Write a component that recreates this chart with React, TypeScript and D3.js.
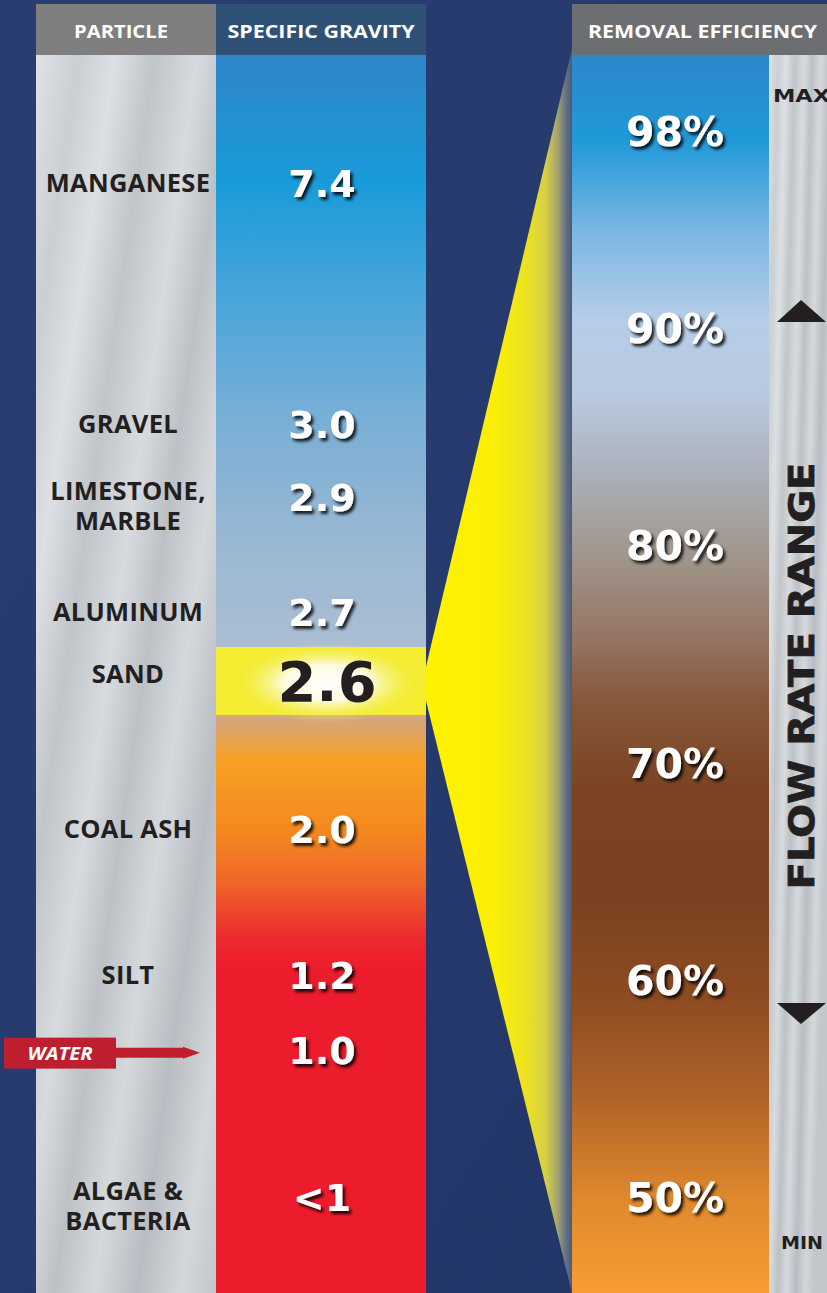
import React from "react";
import * as d3 from "d3";

// ---- data ----
const particleNames = ["MANGANESE", "GRAVEL", "LIMESTONE,|MARBLE", "ALUMINUM", "SAND", "COAL ASH", "SILT", "", "ALGAE &|BACTERIA"];
const gravityLabels = ["7.4", "3.0", "2.9", "2.7", "2.6", "2.0", "1.2", "1.0", "<1"];
const rowSlots = [0, 3.3, 4.3, 5.88, 6.85, 8.85, 10.86, 11.88, 13.9];
const highlightIndex = 4; // SAND
const waterIndex = 7;
const efficiencyValues = [98, 90, 80, 70, 60, 50];
const headers = ["PARTICLE", "SPECIFIC GRAVITY", "REMOVAL EFFICIENCY"];
const flowLabels = ["MAX", "MIN"];
const flowTitle = "FLOW RATE RANGE";

const W = 827;
const H = 1293;

export default function App() {
  const top = 55;
  const pcol = [36, 216];
  const gcol = [216, 426];
  const ecol = [572, 769];
  const fcol = [769, 827];

  const yRow = d3.scaleLinear().domain([0, 13.9]).range([183, 1197]);
  const yEff = d3.scaleLinear().domain([50, 90, 98]).range([1197, 328, 131]);

  const sandY = yRow(rowSlots[highlightIndex]);
  const bandTop = 647, bandBot = 715;

  const wedge = d3.line()([
    [ecol[0], top - 6],
    [gcol[1], sandY - 16],
    [gcol[1], sandY + 18],
    [ecol[0], H],
  ]) + "Z";

  const gStops: [number, string][] = [
    [55, "#2f86c8"], [180, "#199bd9"], [300, "#4aa5da"], [420, "#79afd6"],
    [550, "#9bb8d2"], [646, "#aabed2"], [716, "#d2a685"], [760, "#f7a024"],
    [830, "#f4891f"], [885, "#f0642a"], [935, "#ec2c2e"], [970, "#ec1c2c"], [1293, "#ec1c2c"],
  ];
  const eStops: [number, string][] = [
    [55, "#2d87cb"], [140, "#1f99d8"], [230, "#7ab6e2"], [320, "#b6cde8"],
    [400, "#b8c8de"], [480, "#a9afb6"], [560, "#a09489"], [630, "#967868"],
    [700, "#87583a"], [790, "#7b4322"], [900, "#7a4220"], [1000, "#8e4b22"],
    [1100, "#b06427"], [1200, "#e0892d"], [1293, "#f89c32"],
  ];
  const silverStops: [number, string][] = [
    [0, "#dfe2e5"], [0.12, "#cacfd3"], [0.22, "#dde0e3"], [0.33, "#c0c5ca"],
    [0.45, "#d8dbde"], [0.55, "#bcc1c6"], [0.66, "#d6d9dc"], [0.78, "#b8bdc3"],
    [0.9, "#d4d7da"], [1, "#c2c7cc"],
  ];

  const frac = (y: number) => (y - top) / (H - top);
  const valueFont = "'DejaVu Sans', sans-serif";
  const labelFont = "'Open Sans', sans-serif";
  const headerX = [(pcol[0] + pcol[1]) / 2 - 5, (gcol[0] + gcol[1]) / 2, (ecol[0] + W) / 2 + 3];
  const headerLen = [94, 187, 229];

  return (
    <svg width={W} height={H} style={{ position: "absolute", left: 0, top: 0, display: "block" }}>
      <defs>
        <linearGradient id="bg" x1="0" y1="0" x2="1" y2="1">
          <stop offset="0" stopColor="#2a3d72" />
          <stop offset="0.5" stopColor="#263a6d" />
          <stop offset="1" stopColor="#223466" />
        </linearGradient>
        <linearGradient id="gcolGrad" x1="0" y1="0" x2="0" y2="1">
          {gStops.map(([y, c], i) => <stop key={i} offset={frac(y)} stopColor={c} />)}
        </linearGradient>
        <linearGradient id="ecolGrad" x1="0" y1="0" x2="0" y2="1">
          {eStops.map(([y, c], i) => <stop key={i} offset={frac(y)} stopColor={c} />)}
        </linearGradient>
        <linearGradient id="silver" x1="0" y1="0" x2="1" y2="1">
          {silverStops.map(([o, c], i) => <stop key={i} offset={o} stopColor={c} />)}
        </linearGradient>
        <linearGradient id="silver2" x1="0" y1="0" x2="1" y2="0.6">
          {silverStops.map(([o, c], i) => <stop key={i} offset={o} stopColor={c} />)}
        </linearGradient>
        <linearGradient id="wedgeGrad" gradientUnits="userSpaceOnUse" x1={gcol[1]} y1="0" x2={ecol[0]} y2="0">
          <stop offset="0" stopColor="#fff200" />
          <stop offset="0.45" stopColor="#fcef05" />
          <stop offset="0.68" stopColor="#ede21f" />
          <stop offset="0.82" stopColor="#d6d046" />
          <stop offset="0.9" stopColor="#a5a46e" />
          <stop offset="0.96" stopColor="#647086" />
          <stop offset="1" stopColor="#4b5a78" />
        </linearGradient>
        <radialGradient id="glow" cx="0.5" cy="0.5" r="0.5">
          <stop offset="0" stopColor="#ffffff" />
          <stop offset="0.45" stopColor="#fdfbe0" />
          <stop offset="1" stopColor="#f3ec31" stopOpacity="0" />
        </radialGradient>
        <filter id="shadow" x="-20%" y="-20%" width="150%" height="160%">
          <feDropShadow dx="2.5" dy="3" stdDeviation="1.6" floodColor="#000" floodOpacity="0.85" />
        </filter>
      </defs>

      {/* background */}
      <rect x={0} y={0} width={W} height={H} fill="url(#bg)" />

      {/* particle column */}
      <rect x={pcol[0]} y={4} width={pcol[1] - pcol[0]} height={top - 4} fill="#7f7f7f" />
      <rect x={pcol[0]} y={top} width={pcol[1] - pcol[0]} height={H - top} fill="url(#silver)" />

      {/* gravity column */}
      <rect x={gcol[0]} y={4} width={gcol[1] - gcol[0]} height={top - 4} fill="#2f5175" />
      <rect x={gcol[0]} y={top} width={gcol[1] - gcol[0]} height={H - top} fill="url(#gcolGrad)" />
      <rect x={gcol[0]} y={bandTop} width={gcol[1] - gcol[0]} height={bandBot - bandTop} fill="#f3ec31" />
      <ellipse cx={(gcol[0] + gcol[1]) / 2 + 6} cy={sandY} rx={95} ry={40} fill="url(#glow)" />

      {/* wedge */}
      <path d={wedge} fill="url(#wedgeGrad)" />

      {/* efficiency column */}
      <rect x={ecol[0]} y={4} width={W - ecol[0]} height={top - 4} fill="#6d6e71" />
      <rect x={ecol[0]} y={top} width={ecol[1] - ecol[0]} height={H - top} fill="url(#ecolGrad)" />
      <rect x={fcol[0]} y={top} width={fcol[1] - fcol[0]} height={H - top} fill="url(#silver2)" />

      {/* headers */}
      {headerX.map((x, i) => (
        <text key={i} x={x} y={37.5} textAnchor="middle" fill="#fff" fontFamily={labelFont}
          fontWeight={700} fontSize={17.5} textLength={headerLen[i]} lengthAdjust="spacingAndGlyphs">{headers[i]}</text>
      ))}

      {/* particle labels */}
      {particleNames.map((name, i) => {
        if (!name) return null;
        const lines = name.split("|");
        const off = i === highlightIndex ? -8 : 1;
        const cy = yRow(rowSlots[i]) + (lines.length > 1 ? 8 : -1) + off;
        return (
          <text key={i} x={128} textAnchor="middle" fill="#231f20" fontFamily={labelFont}
            fontWeight={700} fontSize={25.5} letterSpacing={0.3}>
            {lines.map((l, j) => (
              <tspan key={j} x={128} y={cy + (j - (lines.length - 1) / 2) * 30 + 9}>{l}</tspan>
            ))}
          </text>
        );
      })}

      {/* gravity values */}
      {gravityLabels.map((v, i) => {
        const hi = i === highlightIndex;
        return (
          <text key={i} x={(gcol[0] + gcol[1]) / 2 + (hi ? 6 : 1)} y={yRow(rowSlots[i]) + (hi ? 18 : 14)}
            textAnchor="middle" fill={hi ? "#231f20" : "#fff"} fontFamily={valueFont}
            fontWeight={700} fontSize={hi ? 56 : 38} filter={hi ? undefined : "url(#shadow)"}>
            {v}
          </text>
        );
      })}

      {/* water arrow */}
      {(() => {
        const wy = yRow(rowSlots[waterIndex]) + 3;
        const arrow = d3.line()([
          [116, wy - 5], [183, wy - 5], [183, wy - 6], [200, wy], [183, wy + 6], [183, wy + 5], [116, wy + 5],
        ]) + "Z";
        return (
          <g>
            <path d={arrow} fill="#be1e2d" />
            <rect x={4} y={wy - 15} width={112} height={31} fill="#be1e2d" />
            <text x={60} y={wy + 7} textAnchor="middle" fill="#fff" fontFamily={labelFont}
              fontWeight={700} fontStyle="italic" fontSize={18} textLength={65} lengthAdjust="spacingAndGlyphs">WATER</text>
          </g>
        );
      })()}

      {/* efficiency labels */}
      {efficiencyValues.map((e) => (
        <text key={e} x={675} y={yEff(e) + 15} textAnchor="middle" fill="#fff"
          fontFamily={valueFont} fontWeight={700} fontSize={41} filter="url(#shadow)">{`${e}%`}</text>
      ))}

      {/* flow rate range */}
      <text x={773} y={102} fill="#231f20" fontFamily={valueFont} fontWeight={700} fontSize={17}
        textLength={57} lengthAdjust="spacingAndGlyphs">{flowLabels[0]}</text>
      <text x={781} y={1249} fill="#231f20" fontFamily={valueFont} fontWeight={700} fontSize={17}
        textLength={42} lengthAdjust="spacingAndGlyphs">{flowLabels[1]}</text>
      <path d={d3.line()([[777, 322], [801, 300], [826, 322]]) + "Z"} fill="#231f20" />
      <path d={d3.line()([[777, 1003], [801, 1024], [826, 1003]]) + "Z"} fill="#231f20" />
      <text transform={`translate(814, ${676}) rotate(-90)`} textAnchor="middle" fill="#231f20"
        stroke="#231f20" strokeWidth={0.8}
        fontFamily={valueFont} fontWeight={700} fontSize={36} textLength={427} lengthAdjust="spacingAndGlyphs">
        {flowTitle}
      </text>
    </svg>
  );
}
